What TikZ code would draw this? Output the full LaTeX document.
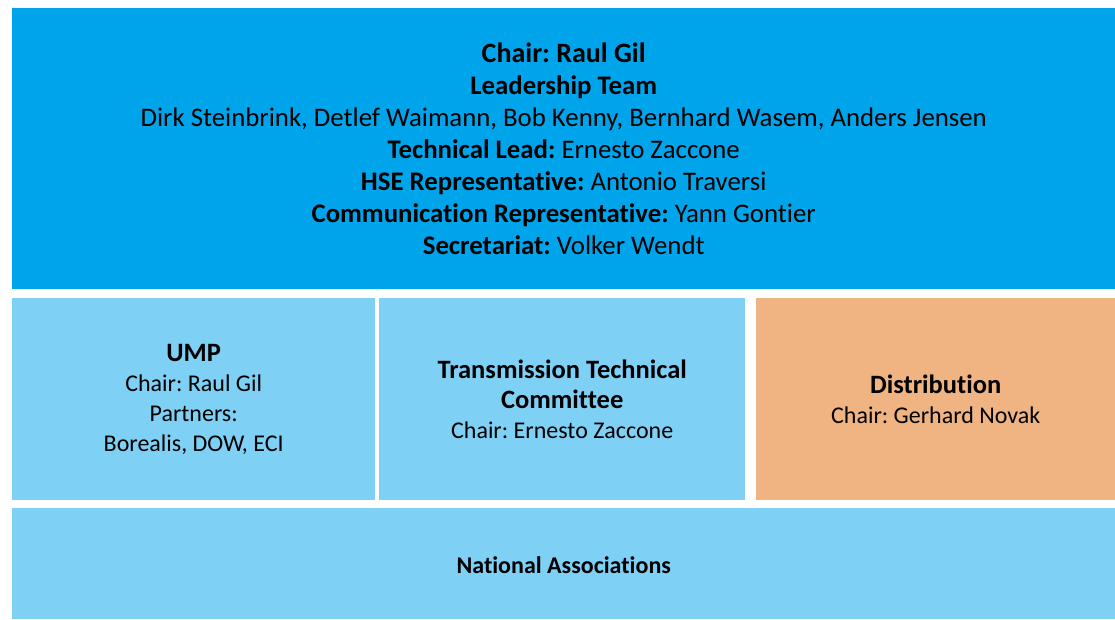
\documentclass[tikz,border=0pt]{standalone}
\usepackage{fontspec}
\setmainfont{Carlito}[Ligatures=NoCommon]
\frenchspacing
\definecolor{myblue}{RGB}{0,164,234}
\definecolor{mylightblue}{RGB}{127,208,245}
\definecolor{myorange}{RGB}{240,180,131}
\def\head#1{{\fontsize{26.5}{31}\selectfont\bfseries #1}}
\tikzset{
  box/.style={anchor=north west,inner sep=0pt,align=center,text=black},
  leadbox/.style={box,fill=myblue,font=\fontsize{26.8}{32}\selectfont},
  groupbox/.style={box,fill=mylightblue,font=\fontsize{24}{30}\selectfont},
}

\begin{document}
\begin{tikzpicture}[x=1pt,y=1pt]

  % page
  \useasboundingbox[fill=white] (0,0) rectangle (1115,-619);

  % leadership
  \node[leadbox,minimum width=1103pt,minimum height=281pt] (lead) at (12,-8)
    {{\fontsize{28}{32}\selectfont\bfseries Chair: Raul Gil}\\
     \textbf{Leadership Team}\\
     Dirk Steinbrink, Detlef Waimann, Bob Kenny, Bernhard Wasem, Anders Jensen\\
     \textbf{Technical Lead:} Ernesto Zaccone\\
     \textbf{HSE Representative:} Antonio Traversi\\
     \textbf{Communication Representative:} Yann Gontier\\
     \textbf{Secretariat:} Volker Wendt};

  % committees
  \node[groupbox,minimum width=363pt,minimum height=202pt] (ump) at (12,-298)
    {\head{UMP}\\
     Chair: Raul Gil\\
     Partners:\\
     Borealis, DOW, ECI};
  \node[groupbox,minimum width=366pt,minimum height=202pt] (ttc) at (379,-298)
    {\head{Transmission Technical}\\
     \head{Committee}\\
     Chair: Ernesto Zaccone};
  \node[groupbox,fill=myorange,minimum width=359pt,minimum height=202pt] (dist) at (756,-298)
    {\head{Distribution}\\
     Chair: Gerhard Novak};

  % associations
  \node[groupbox,minimum width=1103pt,minimum height=111pt,text height=20pt,text depth=0pt,
        font=\fontsize{24}{24}\selectfont\bfseries] (nat) at (12,-508)
    {National Associations};

\end{tikzpicture}
\end{document}
